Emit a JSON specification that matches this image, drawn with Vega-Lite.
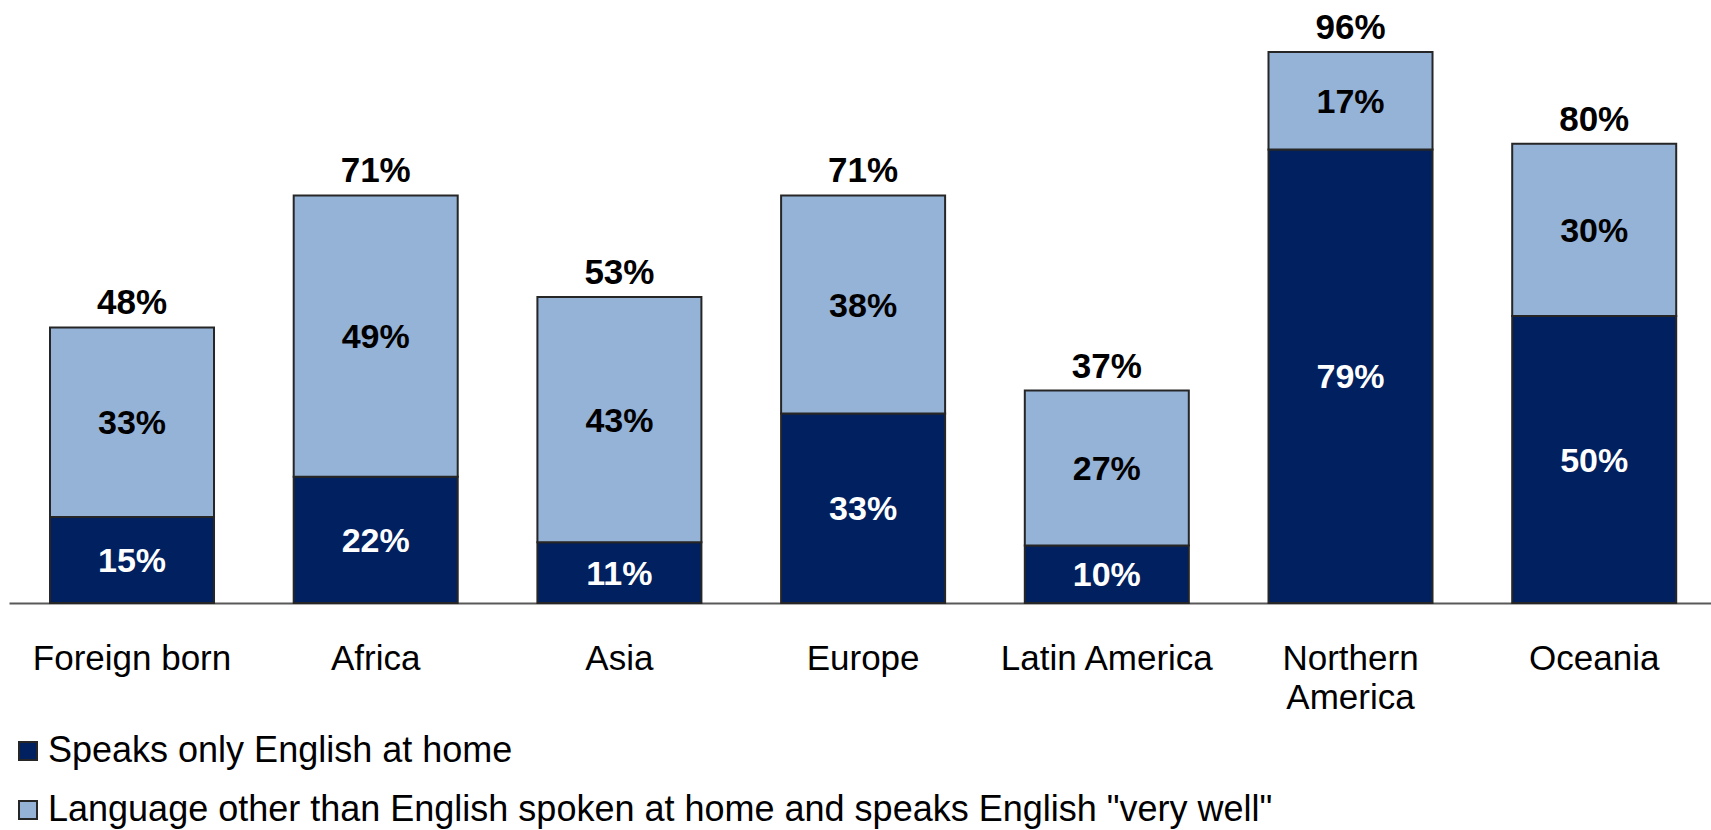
{
  "$schema": "https://vega.github.io/schema/vega-lite/v6.json",
  "autosize": {"type": "none"},
  "padding": {"left": 9, "top": 29, "right": 0, "bottom": 227},
  "width": 1702,
  "height": 574,
  "background": "white",
  "config": {"view": {"stroke": null}, "font": "Liberation Sans"},
  "data": {
    "values": [
      {"region": "Foreign born", "series": "Speaks only English at home", "value": 0.15},
      {"region": "Foreign born", "series": "Language other than English spoken at home and speaks English \"very well\"", "value": 0.33},
      {"region": "Africa", "series": "Speaks only English at home", "value": 0.22},
      {"region": "Africa", "series": "Language other than English spoken at home and speaks English \"very well\"", "value": 0.49},
      {"region": "Asia", "series": "Speaks only English at home", "value": 0.106},
      {"region": "Asia", "series": "Language other than English spoken at home and speaks English \"very well\"", "value": 0.427},
      {"region": "Europe", "series": "Speaks only English at home", "value": 0.33},
      {"region": "Europe", "series": "Language other than English spoken at home and speaks English \"very well\"", "value": 0.38},
      {"region": "Latin America", "series": "Speaks only English at home", "value": 0.10},
      {"region": "Latin America", "series": "Language other than English spoken at home and speaks English \"very well\"", "value": 0.27},
      {"region": "Northern America", "series": "Speaks only English at home", "value": 0.79},
      {"region": "Northern America", "series": "Language other than English spoken at home and speaks English \"very well\"", "value": 0.17},
      {"region": "Oceania", "series": "Speaks only English at home", "value": 0.50},
      {"region": "Oceania", "series": "Language other than English spoken at home and speaks English \"very well\"", "value": 0.30}
    ]
  },
  "transform": [
    {"stack": "value", "groupby": ["region"], "sort": [{"field": "series", "order": "descending"}], "as": ["v0", "v1"]}
  ],
  "encoding": {
    "x": {
      "field": "region",
      "type": "nominal",
      "sort": ["Foreign born", "Africa", "Asia", "Europe", "Latin America", "Northern America", "Oceania"],
      "scale": {"paddingInner": 0.327, "paddingOuter": 0.1555, "align": 0.541},
      "axis": {
        "title": null,
        "labelAngle": 0,
        "labelFontSize": 35,
        "labelColor": "#000000",
        "labelFont": "Liberation Sans",
        "ticks": false,
        "domainColor": "#595959",
        "domainWidth": 2,
        "labelPadding": 38,
        "labelLineHeight": 39,
        "labelLimit": 0,
        "labelExpr": "datum.label == 'Northern America' ? ['Northern', 'America'] : datum.label"
      }
    }
  },
  "layer": [
    {
      "mark": {"type": "bar", "stroke": "#262626", "strokeWidth": 2},
      "encoding": {
        "y": {"field": "v1", "type": "quantitative", "scale": {"domain": [0, 1]}, "axis": null},
        "y2": {"field": "v0"},
        "color": {
          "field": "series",
          "type": "nominal",
          "scale": {
            "domain": ["Speaks only English at home", "Language other than English spoken at home and speaks English \"very well\""],
            "range": ["#002060", "#95B3D7"]
          },
          "legend": {
            "title": null,
            "orient": "none",
            "legendX": 1,
            "legendY": 704,
            "direction": "vertical",
            "symbolType": "square",
            "symbolSize": 324,
            "symbolStrokeColor": "#262626",
            "symbolStrokeWidth": 2,
            "labelFontSize": 36,
            "labelFont": "Liberation Sans",
            "labelColor": "#000000",
            "labelLimit": 0,
            "labelOffset": 2,
            "rowPadding": 23,
            "padding": 0,
            "labelBaseline": "middle"
          }
        }
      }
    },
    {
      "transform": [{"calculate": "(datum.v0 + datum.v1) / 2", "as": "mid"}],
      "mark": {"type": "text", "fontSize": 34, "fontWeight": "bold", "baseline": "middle", "dy": 2},
      "encoding": {
        "y": {"field": "mid", "type": "quantitative", "scale": {"domain": [0, 1]}, "axis": null},
        "text": {"field": "value", "type": "quantitative", "format": ".0%"},
        "color": {"condition": {"test": "datum.series === 'Speaks only English at home'", "value": "#ffffff"}, "value": "#000000"}
      }
    },
    {
      "transform": [{"aggregate": [{"op": "sum", "field": "value", "as": "total"}], "groupby": ["region"]}],
      "mark": {"type": "text", "fontSize": 35, "fontWeight": "bold", "baseline": "alphabetic", "dy": -13, "color": "#000000"},
      "encoding": {
        "y": {"field": "total", "type": "quantitative", "scale": {"domain": [0, 1]}, "axis": null},
        "text": {"field": "total", "type": "quantitative", "format": ".0%"}
      }
    }
  ]
}
